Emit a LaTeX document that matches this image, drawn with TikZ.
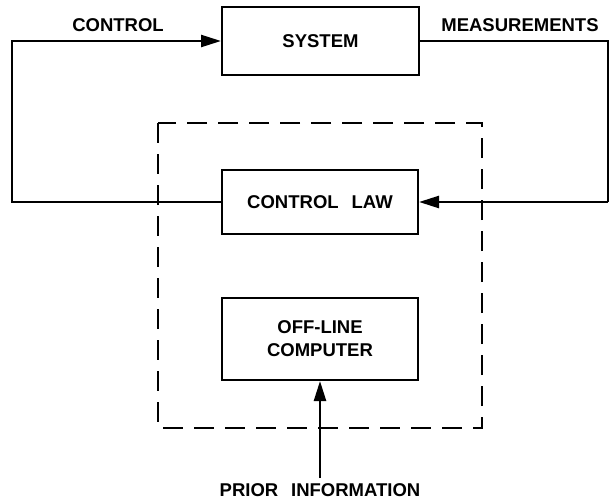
\documentclass[tikz,border=0pt]{standalone}
\usepackage{fontspec}
\setmainfont{Liberation Sans}
\usetikzlibrary{arrows.meta}
\begin{document}
\begin{tikzpicture}[x=1pt,y=-1pt,
  lbl/.style={font=\fontsize{18.5}{22}\selectfont\bfseries, inner sep=0pt},
  blk/.style={draw, line width=2pt, lbl, align=center},
  wire/.style={line width=2.4pt},
  arr/.style={wire, -{Triangle[length=20pt,width=12pt]}},
  frame/.style={line width=2.4pt, dash pattern=on 20pt off 11pt}]
\useasboundingbox (0,0) rectangle (615,503);
\node[blk, minimum width=197pt, minimum height=67pt] (sys) at (320.5,41) {SYSTEM};
\node[blk, minimum width=196pt, minimum height=64pt] (law) at (320,202) {CONTROL\hspace{0.7em}LAW};
\node[blk, minimum width=196pt, minimum height=82pt] (off) at (320,339) {OFF-LINE\\[1pt]COMPUTER};
\coordinate (lx) at (12,202);
\coordinate (rx) at (608,202);
\coordinate (pin) at (320,478);
\draw[frame] (158,123) rectangle (482,428);
\draw[arr] (law.west) -- (lx) |- (sys.west);
\draw[wire] (sys.east) -| (rx);
\draw[arr] (rx) -- (law.east);
\draw[arr] (pin) -- (off.south);
\node[lbl] (ctl) at (118,25) {CONTROL};
\node[lbl] (meas) at (520,25) {MEASUREMENTS};
\node[lbl] (prior) at (320,490) {PRIOR\hspace{0.7em}INFORMATION};
\end{tikzpicture}
\end{document}
